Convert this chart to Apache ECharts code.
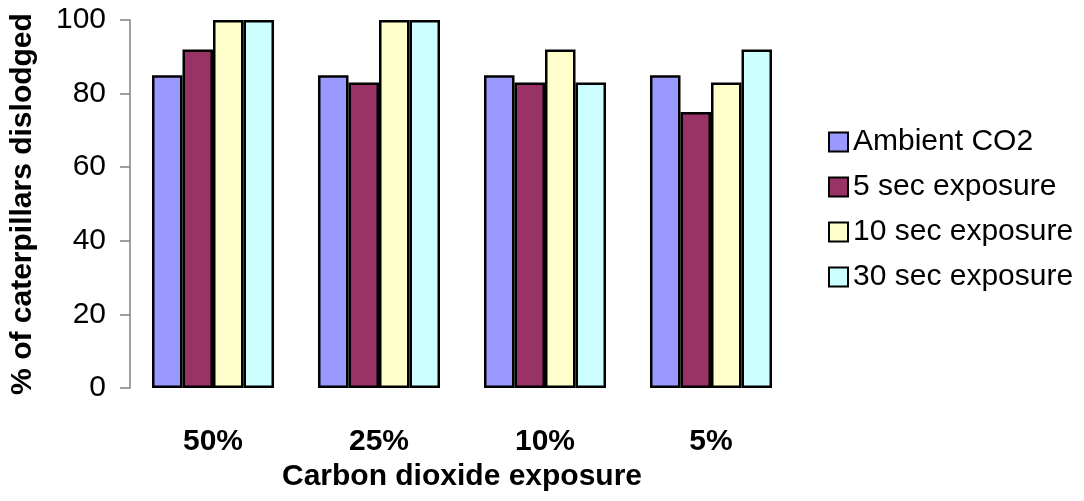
<!DOCTYPE html>
<html>
<head>
<meta charset="utf-8">
<script src="https://cdn.jsdelivr.net/npm/echarts@6/dist/echarts.min.js"></script>
<style>
  html, body { margin: 0; padding: 0; background: #fff; }
  #chart { width: 1084px; height: 501px; }
</style>
</head>
<body>
<div id="chart"></div>
<script>
// data
var categories = ['50%', '25%', '10%', '5%']
var seriesNames = ['Ambient CO2', '5 sec exposure', '10 sec exposure', '30 sec exposure']
var ambient = [85, 85, 85, 85]
var sec5 = [92, 83, 83, 75]
var sec10 = [100, 100, 92, 83]
var sec30 = [100, 100, 83, 92]
var yTicks = [0, 20, 40, 60, 80, 100]

var colors = ['#9999FF', '#993366', '#FFFFCC', '#CCFFFF']
var font = '"Liberation Sans", Arial, sans-serif'

function barSeries(name, data, i) {
  return {
    name: name,
    type: 'bar',
    data: data,
    barGap: '0%',
    barCategoryGap: '26.5%',
    itemStyle: {
      color: colors[i],
      borderColor: '#000',
      borderWidth: 2.5
    }
  }
}

var chart = echarts.init(document.getElementById('chart'))
chart.setOption({
  animation: false,
  textStyle: { fontFamily: font },
  grid: { left: 130, right: 290, top: 20, bottom: 113 },
  legend: {
    orient: 'vertical',
    left: 823,
    top: 122,
    itemWidth: 19,
    itemHeight: 19,
    itemGap: 15,
    icon: 'rect',
    textStyle: { fontFamily: font, fontSize: 30, color: '#000', lineHeight: 30 },
    data: seriesNames
  },
  xAxis: {
    type: 'category',
    data: categories,
    axisLine: { show: false },
    axisTick: { show: false },
    axisLabel: { fontFamily: font, fontSize: 30, fontWeight: 'bold', color: '#000', margin: 39 },
    name: 'Carbon dioxide exposure',
    nameLocation: 'middle',
    nameGap: 69,
    nameTextStyle: { fontFamily: font, fontSize: 30, fontWeight: 'bold', color: '#000' }
  },
  yAxis: {
    type: 'value',
    min: yTicks[0],
    max: yTicks[yTicks.length - 1],
    interval: 20,
    axisLine: { show: true, lineStyle: { color: '#808080', width: 1.5 } },
    axisTick: { show: true, inside: false, length: 10, lineStyle: { color: '#808080', width: 1.5 } },
    splitLine: { show: false },
    axisLabel: { fontFamily: font, fontSize: 30, color: '#000', margin: 24 },
    name: '% of caterpillars dislodged',
    nameLocation: 'middle',
    nameGap: 92,
    nameTextStyle: { fontFamily: font, fontSize: 30, fontWeight: 'bold', color: '#000' }
  },
  series: [
    barSeries(seriesNames[0], ambient, 0),
    barSeries(seriesNames[1], sec5, 1),
    barSeries(seriesNames[2], sec10, 2),
    barSeries(seriesNames[3], sec30, 3)
  ]
})
</script>
</body>
</html>
